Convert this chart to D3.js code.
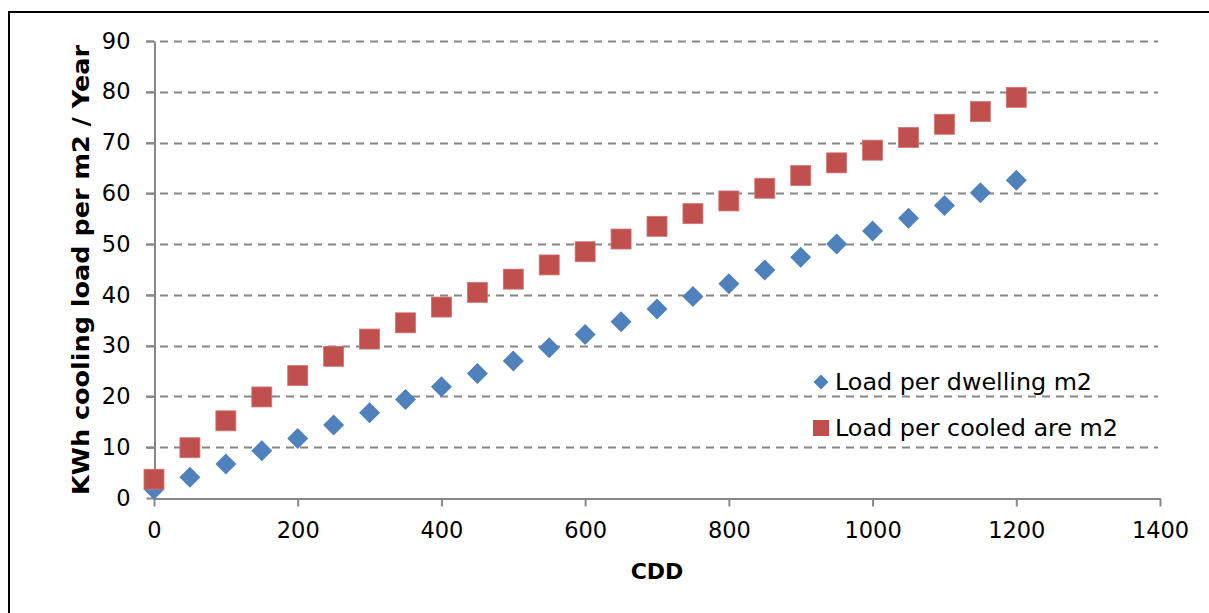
<!DOCTYPE html>
<html><head><meta charset="utf-8">
<script src="https://cdn.jsdelivr.net/npm/d3@7"></script>
<style>
html,body{margin:0;padding:0;background:#fff;}
svg{display:block;font-family:"DejaVu Sans",Verdana,sans-serif;}
</style></head>
<body>
<svg id="chart" width="1209" height="613"></svg>
<script>
const cdd = [0,50,100,150,200,250,300,350,400,450,500,550,600,650,700,750,800,850,900,950,1000,1050,1100,1150,1200];
const loadDwelling = [1.7,4.1,6.7,9.3,11.7,14.4,16.8,19.4,21.9,24.5,27.0,29.6,32.2,34.7,37.2,39.7,42.2,44.9,47.4,50.0,52.6,55.1,57.6,60.1,62.6];
const loadCooled = [3.7,9.9,15.2,19.9,24.1,27.9,31.3,34.5,37.6,40.5,43.1,45.9,48.5,51.0,53.5,56.0,58.5,61.0,63.5,66.0,68.5,71.0,73.6,76.1,78.9];
const xTicks = [0,200,400,600,800,1000,1200,1400];
const yTicks = [0,10,20,30,40,50,60,70,80,90];
const seriesNames = ["Load per dwelling m2","Load per cooled are m2"];
const xTitle = "CDD";
const yTitle = "KWh cooling load per m2 / Year";

const svg = d3.select("#chart");
const blue = "#4F81BD", red = "#C0504D", grid = "#868686", axisC = "#888888";

// outer frame (top and left visible)
svg.append("rect").attr("x",9).attr("y",12).attr("width",1260).attr("height",700)
  .attr("fill","none").attr("stroke","#000").attr("stroke-width",2);

const x = d3.scaleLinear().domain([0,1400]).range([154,1160]);
const y = d3.scaleLinear().domain([0,90]).range([498,41]);

// gridlines
svg.append("g").selectAll("line").data(yTicks.filter(d=>d>0)).join("line")
  .attr("x1",146).attr("x2",1158).attr("y1",d=>Math.round(y(d))+0.5).attr("y2",d=>Math.round(y(d))+0.5)
  .attr("stroke",grid).attr("stroke-width",2).attr("stroke-dasharray","8,6");

const fmt = d3.format("d");
// y axis
const yAxis = d3.axisLeft(y).tickValues(yTicks).tickFormat(fmt).tickSize(8).tickPadding(16).tickSizeOuter(0);
const gy = svg.append("g").attr("transform","translate(154.5,0)").call(yAxis);
gy.select(".domain").attr("stroke",axisC).attr("stroke-width",2);
gy.selectAll(".tick line").attr("stroke",axisC).attr("stroke-width",2);
gy.selectAll(".tick text").attr("font-size",22.5).attr("fill","#000").attr("font-family","DejaVu Sans");

// x axis
const xAxis = d3.axisBottom(x).tickValues(xTicks).tickFormat(fmt).tickSize(8).tickPadding(16).tickSizeOuter(0);
const gx = svg.append("g").attr("transform","translate(0,498.5)").call(xAxis);
gx.select(".domain").attr("stroke",axisC).attr("stroke-width",2);
gx.selectAll(".tick line").attr("stroke",axisC).attr("stroke-width",2);
gx.selectAll(".tick text").attr("font-size",22.5).attr("fill","#000").attr("font-family","DejaVu Sans");

// series
const data1 = cdd.map((c,i)=>({x:c,y:loadDwelling[i]}));
const data2 = cdd.map((c,i)=>({x:c,y:loadCooled[i]}));
svg.append("g").selectAll("path").data(data1).join("path")
  .attr("d","M0,-10.5L10.5,0L0,10.5L-10.5,0Z")
  .attr("transform",d=>`translate(${x(d.x)},${y(d.y)})`)
  .attr("fill",blue);
svg.append("g").selectAll("rect").data(data2).join("rect")
  .attr("x",d=>x(d.x)-10).attr("y",d=>y(d.y)-10).attr("width",20).attr("height",20)
  .attr("fill",red).attr("stroke","#D27471").attr("stroke-width",0.8);

// legend
const lg = svg.append("g");
lg.append("path").attr("d","M0,-7.5L7.5,0L0,7.5L-7.5,0Z").attr("transform","translate(821,382)").attr("fill",blue);
lg.append("rect").attr("x",813).attr("y",420).attr("width",16).attr("height",16).attr("fill",red);
const legendLen = [257,283];
lg.selectAll("text").data(seriesNames).join("text")
  .attr("x",835).attr("y",(d,i)=>382+i*46).attr("dy","0.35em")
  .attr("font-size",23).attr("fill","#000")
  .attr("textLength",(d,i)=>legendLen[i]).attr("lengthAdjust","spacingAndGlyphs").text(d=>d);

// titles
svg.append("text").attr("x",657).attr("y",571).attr("dy","0.35em").attr("text-anchor","middle")
  .attr("font-size",22).attr("font-weight","bold").text(xTitle);
svg.append("text").attr("transform","translate(81,270) rotate(-90)").attr("dy","0.35em").attr("text-anchor","middle")
  .attr("font-size",23.5).attr("font-weight","bold")
  .attr("textLength",450).attr("lengthAdjust","spacingAndGlyphs").text(yTitle);
</script>
</body></html>
